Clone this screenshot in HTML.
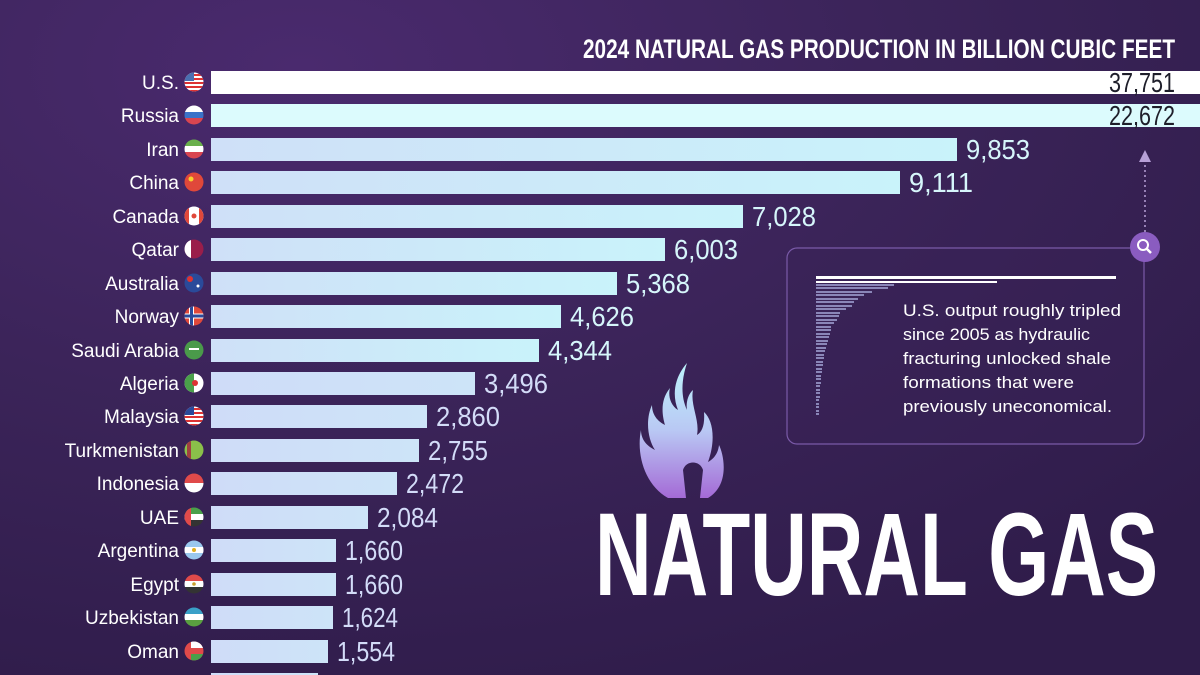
<!DOCTYPE html>
<html><head><meta charset="utf-8"><style>
html,body{margin:0;padding:0;width:1200px;height:675px;overflow:hidden;background:#3a2358}
svg{display:block}
text{font-family:"Liberation Sans",sans-serif}
</style></head><body>
<svg width="1200" height="675" viewBox="0 0 1200 675" xmlns="http://www.w3.org/2000/svg">
<defs>
<radialGradient id="bg" cx="0.25" cy="0.1" r="1">
<stop offset="0" stop-color="#4a2a6e"/><stop offset="0.5" stop-color="#3b2459"/><stop offset="1" stop-color="#2f1c4a"/>
</radialGradient>
<linearGradient id="bar" x1="0" y1="0" x2="1" y2="0">
<stop offset="0" stop-color="#cfe0f8"/><stop offset="1" stop-color="#c9f3fa"/>
</linearGradient>
<linearGradient id="barL" x1="0" y1="0" x2="1" y2="0">
<stop offset="0" stop-color="#cfdcf8"/><stop offset="1" stop-color="#cde4f8"/>
</linearGradient>
<linearGradient id="fl" x1="0" y1="0" x2="0" y2="1">
<stop offset="0" stop-color="#bdf3fb"/><stop offset="0.5" stop-color="#b9c8f4"/><stop offset="1" stop-color="#a46ad6"/>
</linearGradient>
<clipPath id="c"><circle cx="0" cy="0" r="9.5"/></clipPath>
</defs>
<rect width="1200" height="675" fill="url(#bg)"/>

<text x="1175" y="58" text-anchor="end" font-size="27" font-weight="bold" fill="#fff" textLength="592" lengthAdjust="spacingAndGlyphs">2024 NATURAL GAS PRODUCTION IN BILLION CUBIC FEET</text>

<g>
<rect x="211" y="71" width="1000" height="23" fill="#ffffff"/>
<rect x="211" y="104" width="1000" height="23" fill="#dcfbfd"/>
<rect x="211" y="138" width="746" height="23" fill="url(#bar)"/>
<rect x="211" y="171" width="689" height="23" fill="url(#bar)"/>
<rect x="211" y="205" width="532" height="23" fill="url(#bar)"/>
<rect x="211" y="238" width="454" height="23" fill="url(#bar)"/>
<rect x="211" y="272" width="406" height="23" fill="url(#bar)"/>
<rect x="211" y="305" width="350" height="23" fill="url(#bar)"/>
<rect x="211" y="339" width="328" height="23" fill="url(#bar)"/>
<rect x="211" y="372" width="264" height="23" fill="url(#barL)"/>
<rect x="211" y="405" width="216" height="23" fill="url(#barL)"/>
<rect x="211" y="439" width="208" height="23" fill="url(#barL)"/>
<rect x="211" y="472" width="186" height="23" fill="url(#barL)"/>
<rect x="211" y="506" width="157" height="23" fill="url(#barL)"/>
<rect x="211" y="539" width="125" height="23" fill="url(#barL)"/>
<rect x="211" y="573" width="125" height="23" fill="url(#barL)"/>
<rect x="211" y="606" width="122" height="23" fill="url(#barL)"/>
<rect x="211" y="640" width="117" height="23" fill="url(#barL)"/>
<rect x="211" y="673" width="107" height="23" fill="url(#barL)"/>
</g>

<g font-size="28">
<text x="1175" y="92" text-anchor="end" fill="#1e1e2a" textLength="66" lengthAdjust="spacingAndGlyphs">37,751</text>
<text x="1175" y="125" text-anchor="end" fill="#1e1e2a" textLength="66" lengthAdjust="spacingAndGlyphs">22,672</text>
<g fill="#d6f6fb">
<text x="966" y="159" textLength="64" lengthAdjust="spacingAndGlyphs">9,853</text>
<text x="909" y="192" textLength="64" lengthAdjust="spacingAndGlyphs">9,111</text>
<text x="752" y="226" textLength="64" lengthAdjust="spacingAndGlyphs">7,028</text>
<text x="674" y="259" textLength="64" lengthAdjust="spacingAndGlyphs">6,003</text>
<text x="626" y="293" textLength="64" lengthAdjust="spacingAndGlyphs">5,368</text>
<text x="570" y="326" textLength="64" lengthAdjust="spacingAndGlyphs">4,626</text>
<text x="548" y="360" textLength="64" lengthAdjust="spacingAndGlyphs">4,344</text>
</g>
<g fill="#d3dcf8">
<text x="484" y="393" textLength="64" lengthAdjust="spacingAndGlyphs">3,496</text>
<text x="436" y="426" textLength="64" lengthAdjust="spacingAndGlyphs">2,860</text>
<text x="428" y="460" textLength="60" lengthAdjust="spacingAndGlyphs">2,755</text>
<text x="406" y="493" textLength="58" lengthAdjust="spacingAndGlyphs">2,472</text>
<text x="377" y="527" textLength="61" lengthAdjust="spacingAndGlyphs">2,084</text>
<text x="345" y="560" textLength="58" lengthAdjust="spacingAndGlyphs">1,660</text>
<text x="345" y="594" textLength="58" lengthAdjust="spacingAndGlyphs">1,660</text>
<text x="342" y="627" textLength="56" lengthAdjust="spacingAndGlyphs">1,624</text>
<text x="337" y="661" textLength="58" lengthAdjust="spacingAndGlyphs">1,554</text>
<text x="327" y="694" textLength="58" lengthAdjust="spacingAndGlyphs">1,555</text>
</g>
</g>

<g font-size="19" fill="#ffffff" text-anchor="end">
<text x="179" y="89">U.S.</text>
<text x="179" y="122">Russia</text>
<text x="179" y="156">Iran</text>
<text x="179" y="189">China</text>
<text x="179" y="223">Canada</text>
<text x="179" y="256">Qatar</text>
<text x="179" y="290">Australia</text>
<text x="179" y="323">Norway</text>
<text x="179" y="357">Saudi Arabia</text>
<text x="179" y="390">Algeria</text>
<text x="179" y="423">Malaysia</text>
<text x="179" y="457">Turkmenistan</text>
<text x="179" y="490">Indonesia</text>
<text x="179" y="524">UAE</text>
<text x="179" y="557">Argentina</text>
<text x="179" y="591">Egypt</text>
<text x="179" y="624">Uzbekistan</text>
<text x="179" y="658">Oman</text>
</g>

<g>
<g transform="translate(194,82)" clip-path="url(#c)"><rect x="-10" y="-10" width="20" height="20" fill="#fff"/><rect x="-10" y="-8" width="20" height="2" fill="#d33"/><rect x="-10" y="-4" width="20" height="2" fill="#d33"/><rect x="-10" y="0" width="20" height="2" fill="#d33"/><rect x="-10" y="4" width="20" height="2" fill="#d33"/><rect x="-10" y="8" width="20" height="2" fill="#d33"/><rect x="-10" y="-10" width="10" height="9" fill="#4a6fb0"/></g>
<g transform="translate(194,115)" clip-path="url(#c)"><rect x="-10" y="-10" width="20" height="7" fill="#fff"/><rect x="-10" y="-3" width="20" height="6" fill="#3a72c8"/><rect x="-10" y="3" width="20" height="7" fill="#d94550"/></g>
<g transform="translate(194,149)" clip-path="url(#c)"><rect x="-10" y="-10" width="20" height="7" fill="#6ab04c"/><rect x="-10" y="-3" width="20" height="6" fill="#fff"/><rect x="-10" y="3" width="20" height="7" fill="#d94550"/></g>
<g transform="translate(194,182)" clip-path="url(#c)"><rect x="-10" y="-10" width="20" height="20" fill="#e0483a"/><circle cx="-3" cy="-3" r="2.5" fill="#f8d030"/></g>
<g transform="translate(194,216)" clip-path="url(#c)"><rect x="-10" y="-10" width="20" height="20" fill="#fff"/><rect x="-10" y="-10" width="5" height="20" fill="#e0483a"/><rect x="5" y="-10" width="5" height="20" fill="#e0483a"/><circle r="2.5" fill="#e0483a"/></g>
<g transform="translate(194,249)" clip-path="url(#c)"><rect x="-10" y="-10" width="20" height="20" fill="#9a1e4a"/><rect x="-10" y="-10" width="7" height="20" fill="#fff"/></g>
<g transform="translate(194,283)" clip-path="url(#c)"><rect x="-10" y="-10" width="20" height="20" fill="#2a4a9a"/><circle cx="4" cy="3" r="1.5" fill="#fff"/><circle cx="-4" cy="-4" r="3" fill="#d33"/></g>
<g transform="translate(194,316)" clip-path="url(#c)"><rect x="-10" y="-10" width="20" height="20" fill="#e0483a"/><rect x="-5" y="-10" width="5" height="20" fill="#fff"/><rect x="-10" y="-2.5" width="20" height="5" fill="#fff"/><rect x="-4" y="-10" width="3" height="20" fill="#2a4a9a"/><rect x="-10" y="-1.5" width="20" height="3" fill="#2a4a9a"/></g>
<g transform="translate(194,350)" clip-path="url(#c)"><rect x="-10" y="-10" width="20" height="20" fill="#4a9a4a"/><rect x="-5" y="-2" width="10" height="2" fill="#fff"/></g>
<g transform="translate(194,383)" clip-path="url(#c)"><rect x="-10" y="-10" width="20" height="20" fill="#fff"/><rect x="-10" y="-10" width="10" height="20" fill="#4aa04a"/><circle cx="1" cy="0" r="3" fill="#d33"/></g>
<g transform="translate(194,416)" clip-path="url(#c)"><rect x="-10" y="-10" width="20" height="20" fill="#fff"/><rect x="-10" y="-8" width="20" height="2" fill="#d33"/><rect x="-10" y="-4" width="20" height="2" fill="#d33"/><rect x="-10" y="0" width="20" height="2" fill="#d33"/><rect x="-10" y="4" width="20" height="2" fill="#d33"/><rect x="-10" y="8" width="20" height="2" fill="#d33"/><rect x="-10" y="-10" width="10" height="9" fill="#2a4a9a"/></g>
<g transform="translate(194,450)" clip-path="url(#c)"><rect x="-10" y="-10" width="20" height="20" fill="#8ac04a"/><rect x="-7" y="-10" width="4" height="20" fill="#a04040"/></g>
<g transform="translate(194,483)" clip-path="url(#c)"><rect x="-10" y="-10" width="20" height="10" fill="#e04a4a"/><rect x="-10" y="0" width="20" height="10" fill="#fff"/></g>
<g transform="translate(194,517)" clip-path="url(#c)"><rect x="-10" y="-10" width="20" height="7" fill="#4aa04a"/><rect x="-10" y="-3" width="20" height="6" fill="#fff"/><rect x="-10" y="3" width="20" height="7" fill="#333"/><rect x="-10" y="-10" width="7" height="20" fill="#e04a4a"/></g>
<g transform="translate(194,550)" clip-path="url(#c)"><rect x="-10" y="-10" width="20" height="20" fill="#9ac8ee"/><rect x="-10" y="-3" width="20" height="6" fill="#fff"/><circle r="2" fill="#e0b020"/></g>
<g transform="translate(194,584)" clip-path="url(#c)"><rect x="-10" y="-10" width="20" height="7" fill="#e04a4a"/><rect x="-10" y="-3" width="20" height="6" fill="#fff"/><rect x="-10" y="3" width="20" height="7" fill="#333"/><circle r="1.8" fill="#c9a030"/></g>
<g transform="translate(194,617)" clip-path="url(#c)"><rect x="-10" y="-10" width="20" height="7" fill="#3aa0c8"/><rect x="-10" y="-3" width="20" height="6" fill="#fff"/><rect x="-10" y="3" width="20" height="7" fill="#5aa040"/></g>
<g transform="translate(194,651)" clip-path="url(#c)"><rect x="-10" y="-10" width="20" height="20" fill="#e04a4a"/><rect x="-3" y="-10" width="13" height="7" fill="#fff"/><rect x="-3" y="3" width="13" height="7" fill="#4aa04a"/></g>
</g>

<line x1="1145" y1="232" x2="1145" y2="160" stroke="#b8a0d8" stroke-width="1.5" stroke-dasharray="2,3"/>
<path d="M1139,162 L1145,150 L1151,162 Z" fill="#b8a0d8"/>
<rect x="787" y="248" width="357" height="196" rx="10" fill="#3a2358" fill-opacity="0.4" stroke="#7a5aa8" stroke-width="1.2"/>
<circle cx="1145" cy="247" r="15" fill="#8a5cc0"/>
<circle cx="1143" cy="245" r="5" fill="none" stroke="#fff" stroke-width="2"/>
<line x1="1147" y1="249" x2="1151" y2="253" stroke="#fff" stroke-width="2.5"/>
<rect x="816" y="276" width="300" height="3" fill="#fff"/>
<rect x="816" y="281" width="181" height="2" fill="#fff"/>
<g fill="#8a86b8">
<rect x="816" y="284" width="78" height="2"/><rect x="816" y="287" width="72" height="2"/><rect x="816" y="291" width="56" height="2"/><rect x="816" y="294" width="48" height="2"/><rect x="816" y="298" width="42" height="2"/><rect x="816" y="301" width="38" height="2"/><rect x="816" y="305" width="36" height="2"/><rect x="816" y="308" width="30" height="2"/><rect x="816" y="312" width="24" height="2"/><rect x="816" y="315" width="23" height="2"/><rect x="816" y="319" width="21" height="2"/><rect x="816" y="322" width="18" height="2"/><rect x="816" y="326" width="15" height="2"/><rect x="816" y="329" width="15" height="2"/><rect x="816" y="333" width="14" height="2"/><rect x="816" y="336" width="13" height="2"/><rect x="816" y="340" width="12" height="2"/><rect x="816" y="343" width="11" height="2"/><rect x="816" y="347" width="10" height="2"/><rect x="816" y="350" width="9" height="2"/><rect x="816" y="354" width="8" height="2"/><rect x="816" y="357" width="8" height="2"/><rect x="816" y="361" width="7" height="2"/><rect x="816" y="364" width="7" height="2"/><rect x="816" y="368" width="6" height="2"/><rect x="816" y="371" width="6" height="2"/><rect x="816" y="375" width="5" height="2"/><rect x="816" y="378" width="5" height="2"/><rect x="816" y="382" width="5" height="2"/><rect x="816" y="385" width="4" height="2"/><rect x="816" y="389" width="4" height="2"/><rect x="816" y="392" width="4" height="2"/><rect x="816" y="396" width="4" height="2"/><rect x="816" y="399" width="3" height="2"/><rect x="816" y="403" width="3" height="2"/><rect x="816" y="406" width="3" height="2"/><rect x="816" y="410" width="3" height="2"/><rect x="816" y="413" width="3" height="2"/>
</g>
<g font-size="17" fill="#fff">
<text x="903" y="316" textLength="218" lengthAdjust="spacingAndGlyphs">U.S. output roughly tripled</text>
<text x="903" y="340" textLength="187" lengthAdjust="spacingAndGlyphs">since 2005 as hydraulic</text>
<text x="903" y="364" textLength="208" lengthAdjust="spacingAndGlyphs">fracturing unlocked shale</text>
<text x="903" y="388" textLength="171" lengthAdjust="spacingAndGlyphs">formations that were</text>
<text x="903" y="412" textLength="209" lengthAdjust="spacingAndGlyphs">previously uneconomical.</text>
</g>

<path d="M687,363 C674,378 672,395 678,410 C670,405 668,395 670,388 C660,400 662,415 665,425 C655,420 652,412 652,405 C645,420 648,440 655,450 C645,445 641,438 641,430 C636,455 645,485 668,498 L708,498 C730,485 724,455 719,445 C718,455 712,460 708,462 C716,440 713,420 704,412 C705,425 702,432 697,435 C700,420 690,405 693,390 C687,395 686,405 687,410 C680,395 682,378 687,363 Z M683,470 C686,460 700,460 703,470 L700,498 L686,498 Z" fill="url(#fl)" fill-rule="evenodd"/>

<text x="595" y="595" font-size="118" font-weight="bold" fill="#fff" textLength="563" lengthAdjust="spacingAndGlyphs">NATURAL GAS</text>
</svg>
</body></html>
